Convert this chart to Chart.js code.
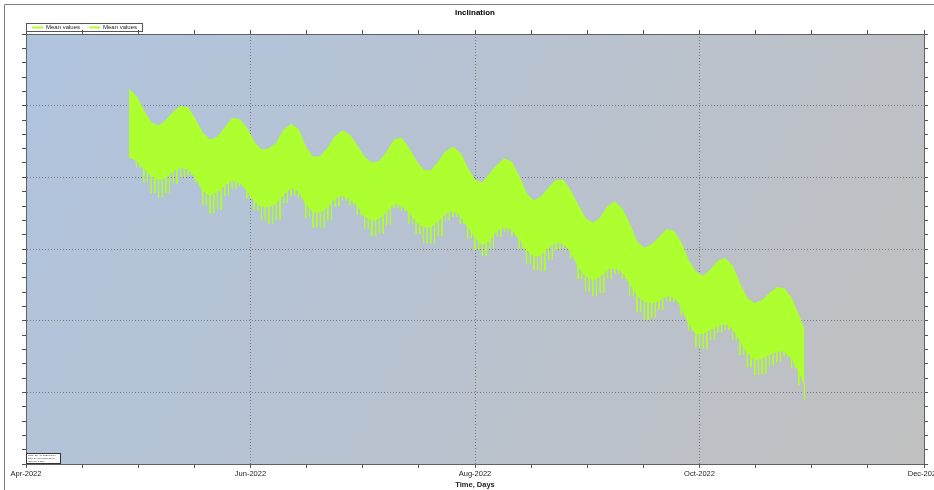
<!DOCTYPE html>
<html>
<head>
<meta charset="utf-8">
<title>Inclination</title>
<script src="https://cdn.jsdelivr.net/npm/chart.js@4.4.1/dist/chart.umd.min.js"></script>
<style>
  html, body { margin: 0; padding: 0; background: #fff; overflow: hidden; }
  #wrap { width: 950px; height: 490px; }
</style>
</head>
<body>
<div id="wrap"><canvas id="myChart" width="950" height="490"></canvas></div>
<script>
// days counted from 1 Apr 2022
const sampleDays = [28, 30, 32, 34, 36, 38, 40, 42, 44, 46,
  48, 50, 52, 54, 56, 58, 60, 62, 64, 66,
  68, 70, 72, 74, 76, 78, 80, 82, 84, 86,
  88, 90, 92, 94, 96, 98, 100, 102, 104, 106,
  108, 110, 112, 114, 116, 118, 120, 122, 124, 126,
  128, 130, 132, 134, 136, 138, 140, 142, 144, 146,
  148, 150, 152, 154, 156, 158, 160, 162, 164, 166,
  168, 170, 172, 174, 176, 178, 180, 182, 184, 186,
  188, 190, 192, 194, 196, 198, 200, 202, 204, 206,
  208, 210, 211.5];

// upper edge of the band
const upperValues = [5.23, 5.13, 4.93, 4.76, 4.72, 4.79, 4.91, 4.99, 4.97, 4.81,
  4.62, 4.52, 4.56, 4.69, 4.82, 4.81, 4.69, 4.49, 4.38, 4.40,
  4.47, 4.66, 4.74, 4.67, 4.42, 4.28, 4.29, 4.41, 4.57, 4.65,
  4.59, 4.44, 4.28, 4.20, 4.22, 4.35, 4.52, 4.55, 4.41, 4.23,
  4.10, 4.09, 4.21, 4.36, 4.42, 4.34, 4.13, 3.96, 3.92, 4.05,
  4.17, 4.26, 4.21, 4.01, 3.77, 3.67, 3.73, 3.85, 3.96, 3.96,
  3.81, 3.61, 3.43, 3.36, 3.43, 3.59, 3.66, 3.56, 3.35, 3.10,
  3.01, 3.06, 3.16, 3.27, 3.25, 3.09, 2.84, 2.68, 2.62, 2.71,
  2.83, 2.87, 2.76, 2.51, 2.31, 2.24, 2.28, 2.38, 2.46, 2.45,
  2.31, 2.07, 1.87];

// solid lower edge of the band
const lowerValues = [4.28, 4.24, 4.13, 4.02, 3.97, 4.00, 4.09, 4.14, 4.12, 4.01,
  3.82, 3.75, 3.80, 3.89, 3.96, 3.93, 3.82, 3.68, 3.60, 3.59,
  3.64, 3.77, 3.85, 3.82, 3.63, 3.52, 3.52, 3.59, 3.71, 3.75,
  3.70, 3.61, 3.46, 3.40, 3.43, 3.53, 3.64, 3.61, 3.52, 3.39,
  3.31, 3.31, 3.39, 3.50, 3.54, 3.47, 3.32, 3.17, 3.06, 3.13,
  3.26, 3.31, 3.28, 3.14, 2.99, 2.90, 2.92, 3.03, 3.10, 3.08,
  2.97, 2.76, 2.63, 2.57, 2.62, 2.72, 2.74, 2.69, 2.53, 2.36,
  2.27, 2.25, 2.28, 2.35, 2.34, 2.20, 1.97, 1.82, 1.82, 1.88,
  1.93, 1.96, 1.90, 1.73, 1.56, 1.45, 1.48, 1.53, 1.57, 1.58,
  1.48, 1.30, 1.12];

// daily low spikes below the band
const spikeValues = [4.28, 4.13, 3.93, 3.78, 3.72, 3.78, 3.91, 4.00, 4.03, 3.93,
  3.61, 3.50, 3.55, 3.74, 3.84, 3.87, 3.70, 3.54, 3.40, 3.35,
  3.41, 3.64, 3.74, 3.71, 3.43, 3.30, 3.29, 3.40, 3.59, 3.68,
  3.61, 3.47, 3.28, 3.18, 3.22, 3.33, 3.57, 3.53, 3.35, 3.21,
  3.08, 3.08, 3.18, 3.40, 3.45, 3.35, 3.15, 2.99, 2.90, 3.01,
  3.17, 3.24, 3.18, 3.00, 2.79, 2.71, 2.69, 2.85, 2.99, 3.01,
  2.87, 2.58, 2.41, 2.34, 2.39, 2.58, 2.65, 2.58, 2.34, 2.12,
  2.01, 2.04, 2.15, 2.27, 2.26, 2.07, 1.86, 1.63, 1.61, 1.73,
  1.83, 1.87, 1.73, 1.52, 1.35, 1.24, 1.26, 1.37, 1.42, 1.50,
  1.34, 1.10, 0.89];

const monthLabels = ["Apr-2022", "Jun-2022", "Aug-2022", "Oct-2022", "Dec-2022"];
const monthDays = [0, 61, 122, 183, 244];

// tick marks: 4 per two-month step
const xTickDays = [];
for (let k = 0; k <= 16; k++) xTickDays.push(k * 15.25);

const upperPoints = sampleDays.map((d, i) => ({ x: d, y: upperValues[i] }));
const lowerPoints = sampleDays.map((d, i) => ({ x: d, y: lowerValues[i] }));

// one spike per day, rooted inside the band (drawn underneath it)
const spikePoints = [];
sampleDays.forEach((d, i) => {
  const next = Math.min(i + 1, sampleDays.length - 1);
  const days = [d];
  if (sampleDays[next] - d >= 2) days.push(d + 1);
  days.forEach((t, k) => {
    const top = k === 0 ? lowerValues[i] : Math.max(lowerValues[i], lowerValues[next]);
    spikePoints.push({ x: t - 0.1, y: top });
    spikePoints.push({ x: t - 0.02, y: spikeValues[i] });
    spikePoints.push({ x: t + 0.02, y: spikeValues[i] });
    spikePoints.push({ x: t + 0.1, y: top });
  });
});

const FONT = "'Liberation Sans', Arial, sans-serif";
const GREEN = "#adff2f";
const isMajorY = (v) => Math.abs(v - Math.round(v)) < 1e-6;

const chartDecor = {
  id: "chartDecor",
  beforeDraw(chart) {
    const { ctx, chartArea: a, width, height } = chart;
    ctx.save();
    ctx.fillStyle = "#ffffff";
    ctx.fillRect(0, 0, width, height);
    const g = ctx.createLinearGradient(a.left, a.top, a.right, a.bottom);
    g.addColorStop(0, "#b0c4de");
    g.addColorStop(1, "#c0c0c0");
    ctx.fillStyle = g;
    ctx.fillRect(a.left, a.top, a.right - a.left, a.bottom - a.top);
    ctx.restore();
  },
  afterDraw(chart) {
    const { ctx, chartArea: a, width, height } = chart;
    ctx.save();
    // outer frame
    ctx.strokeStyle = "#808080";
    ctx.lineWidth = 1;
    ctx.beginPath();
    ctx.moveTo(4.5, height);
    ctx.lineTo(4.5, 4.5);
    ctx.lineTo(width, 4.5);
    ctx.stroke();

    // title
    ctx.fillStyle = "#000";
    ctx.font = "bold 8px " + FONT;
    ctx.textAlign = "center";
    ctx.textBaseline = "middle";
    ctx.fillText("Inclination", (a.left + a.right) / 2, 13);

    // legend box
    ctx.font = "6px " + FONT;
    ctx.textAlign = "left";
    let x = a.left + 6;
    const ly = 27.5;
    const items = chart.data.datasets.filter((ds) => ds.label);
    const startX = a.left;
    items.forEach((it) => {
      ctx.strokeStyle = it.borderColor;
      ctx.lineWidth = 2;
      ctx.beginPath();
      ctx.moveTo(x, ly);
      ctx.lineTo(x + 11, ly);
      ctx.stroke();
      ctx.fillStyle = "#222";
      ctx.fillText(it.label, x + 14, ly);
      x += 14 + ctx.measureText(it.label).width + 9;
    });
    ctx.strokeStyle = "#555";
    ctx.lineWidth = 1;
    ctx.strokeRect(startX + 0.5, 23.5, x - startX - 4, 8);

    // small info box in the lower-left corner
    ctx.fillStyle = "#ffffff";
    ctx.fillRect(a.left + 1, a.bottom - 10, 33, 9);
    ctx.strokeStyle = "#333";
    ctx.strokeRect(a.left + 0.5, a.bottom - 10.5, 34, 10);
    ctx.fillStyle = "#333";
    ctx.font = "2.5px " + FONT;
    ctx.fillText("Start: 28-Apr-2022 00:00", a.left + 2, a.bottom - 8.5);
    ctx.fillText("End: 30-Oct-2022 23:00", a.left + 2, a.bottom - 5.5);
    ctx.fillText("Interval: 1 hour", a.left + 2, a.bottom - 2.5);
    ctx.restore();
  }
};

const ctx = document.getElementById("myChart").getContext("2d");
const myChart = new Chart(ctx, {
  type: "line",
  data: {
    datasets: [
      {
        label: "Mean values",
        data: upperPoints,
        borderColor: GREEN,
        backgroundColor: GREEN,
        borderWidth: 1,
        pointRadius: 0,
        tension: 0,
        fill: "+1",
        order: 1,
      },
      {
        label: "Mean values",
        data: lowerPoints,
        borderColor: GREEN,
        borderWidth: 1,
        pointRadius: 0,
        tension: 0,
        fill: false,
        order: 2,
      },
      {
        label: "",
        data: spikePoints,
        borderColor: GREEN,
        borderWidth: 1,
        pointRadius: 0,
        tension: 0,
        fill: false,
        order: 3,
      },
    ],
  },
  options: {
    responsive: false,
    animation: false,
    devicePixelRatio: 1,
    parsing: false,
    layout: { padding: { left: 22, right: 22, top: 30, bottom: 1 } },
    plugins: {
      legend: { display: false },
      title: { display: false },
      tooltip: { enabled: false },
    },
    scales: {
      x: {
        type: "linear",
        position: "bottom",
        min: 0,
        max: 244,
        afterBuildTicks: (scale) => { scale.ticks = xTickDays.map((v) => ({ value: v })); },
        grid: {
          color: (c) => (c.tick && monthDays.includes(c.tick.value) ? "#7a7a7a" : "rgba(0,0,0,0)"),
          tickColor: "#555",
          tickLength: 4,
        },
        border: { display: true, color: "#606060", dash: [1, 2] },
        ticks: {
          autoSkip: false,
          maxRotation: 0,
          padding: 1,
          color: "#222",
          font: { size: 7.5, family: FONT },
          callback: (value) => {
            const idx = monthDays.indexOf(value);
            return idx >= 0 ? monthLabels[idx] : "";
          },
        },
        title: {
          display: true,
          text: "Time, Days",
          color: "#222",
          font: { size: 7.5, weight: "bold", family: FONT },
          padding: { top: 1, bottom: 0 },
        },
      },
      x2: {
        type: "linear",
        position: "top",
        min: 0,
        max: 244,
        afterBuildTicks: (scale) => { scale.ticks = xTickDays.map((v) => ({ value: v })); },
        grid: { drawOnChartArea: false, tickColor: "#555", tickLength: 4 },
        border: { display: true, color: "#606060" },
        ticks: { display: false },
      },
      y: {
        min: 0,
        max: 6,
        position: "left",
        ticks: { display: false, stepSize: 0.2 },
        grid: {
          color: (c) => (c.tick && isMajorY(c.tick.value) ? "#7a7a7a" : "rgba(0,0,0,0)"),
          tickColor: "#555",
          tickLength: 4,
        },
        border: { display: true, color: "#606060", dash: [1, 2] },
      },
      y2: {
        min: 0,
        max: 6,
        position: "right",
        ticks: { display: false, stepSize: 0.2 },
        grid: { drawOnChartArea: false, tickColor: "#555", tickLength: 4 },
        border: { display: true, color: "#606060" },
      },
    },
  },
  plugins: [chartDecor],
});
</script>
</body>
</html>
